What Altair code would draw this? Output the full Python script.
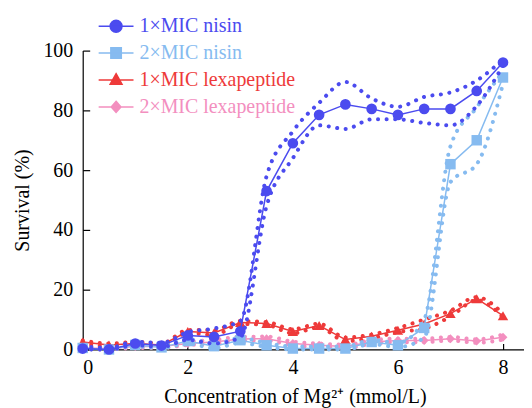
import altair as alt
import pandas as pd

# ---- data ----
conc = [0, 0.5, 1, 1.5, 2, 2.5, 3, 3.5, 4, 4.5, 5, 5.5, 6, 6.5, 7, 7.5, 8]

series = ["1×MIC nisin", "2×MIC nisin", "1×MIC lexapeptide", "2×MIC lexapeptide"]
colors = ["#4b4bef", "#86bbf0", "#ee3a3a", "#f38fbf"]
point_shapes = ["circle", "square", "triangle-up", "diamond"]
point_sizes = [115, 110, 110, 80]

nisin1 = [0.3, 0, 2.0, 1.3, 4.7, 4.2, 6.1, 53, 69, 78.5, 82, 80.5, 78.5, 80.5, 80.5, 86.5, 96]
nisin1_hi = [1.0, 0.6, 2.6, 2.2, 5.8, 7.0, 9.5, 58, 73, 82.5, 89.5, 84, 81.2, 84.5, 86, 90, 97]
nisin1_lo = [0, 0, 1.4, 0.8, 3.2, 2.0, 4.0, 48, 64, 75, 73.8, 77, 77, 75.8, 75, 81.5, 95]

nisin2 = [0.5, 0, 1.5, 0.7, 2.8, 1.1, 3.1, 1.4, 0.3, 0.3, 0.3, 2.5, 1.4, 7.2, 62, 70, 91]
nisin2_hi = [0.8, 0.4, 2.0, 1.4, 3.5, 2.0, 3.8, 2.2, 1.0, 1.0, 1.0, 3.2, 2.2, 10, 68, 81, 93]
nisin2_lo = [0.2, 0, 1.0, 0.4, 2.0, 0.4, 2.2, 0.8, 0, 0, 0, 1.8, 0.8, 4, 56, 62, 89]

lexa1 = [2.5, 1.5, 2.0, 1.5, 6.0, 5.5, 9.0, 8.7, 6.0, 8.0, 3.3, 4.4, 6.4, 8.5, 12, 17, 11.3]
lexa1_hi = [3.0, 2.0, 2.5, 2.0, 6.5, 6.5, 9.5, 9.2, 6.8, 8.6, 4.0, 5.0, 7.2, 10, 13, 17.5, 12]
lexa1_lo = [2.0, 1.0, 1.5, 1.0, 5.5, 4.8, 8.5, 8.2, 5.4, 7.4, 2.8, 3.8, 5.8, 7.0, 11, 16.5, 10.8]

lexa2 = [0.5, 0.3, 1.0, 1.0, 2.0, 2.5, 3.5, 3.6, 2.0, 1.4, 1.0, 2.5, 3.0, 3.0, 3.6, 2.8, 4.1]
lexa2_hi = [1.0, 0.8, 1.6, 1.5, 2.6, 3.2, 4.2, 4.3, 2.6, 2.0, 1.6, 3.1, 3.6, 3.6, 4.2, 3.4, 5.0]
lexa2_lo = [0.1, 0, 0.5, 0.5, 1.5, 1.8, 2.9, 3.0, 1.4, 0.8, 0.5, 1.9, 2.4, 2.4, 3.0, 2.2, 3.3]

x_ticks = [0, 2, 4, 6, 8]
y_ticks = [0, 20, 40, 60, 80, 100]

means = [nisin1, nisin2, lexa1, lexa2]
highs = [nisin1_hi, nisin2_hi, lexa1_hi, lexa2_hi]
lows = [nisin1_lo, nisin2_lo, lexa1_lo, lexa2_lo]

rows = []
for s, m, h, l in zip(series, means, highs, lows):
    for xi, mi, hi, li in zip(conc, m, h, l):
        rows.append({"series": s, "x": xi, "mean": mi, "hi": hi, "lo": li})
df = pd.DataFrame(rows)

FONT = "Liberation Serif, Times New Roman, Times, serif"
AXFONT = "serif"
W, H = 443, 300
xscale = alt.Scale(domain=[0, 8.4], nice=False, zero=False)
yscale = alt.Scale(domain=[0, 100], nice=False)

common = dict(labelFont=AXFONT, labelFontSize=20, labelColor="black",
              titleFont=AXFONT, titleFontSize=20, titleFontWeight="normal", titleColor="black",
              domainColor="black", domainWidth=1.2, tickColor="black", tickWidth=1.2, grid=False)

# main axes: line, labels and titles (no ticks)
xaxis_main = alt.Axis(orient="bottom", values=x_ticks, title="Concentration of Mg²⁺ (mmol/L)",
                      format="d", ticks=False, tickSize=0, labelPadding=8,
                      titleX=213, titleY=53, titleBaseline="alphabetic", titleAnchor="start",
                      titleAlign="center", **common)
yaxis_main = alt.Axis(orient="left", values=y_ticks, title="Survival (%)", format="d",
                      ticks=False, tickSize=0, labelPadding=10,
                      titleX=-54, titleY=150, titleBaseline="alphabetic", titleAlign="center",
                      **common)
# inward ticks: opposite-side axes moved onto the main axis lines
xaxis_ticks = alt.Axis(values=x_ticks, orient="top", offset=-H, labels=False, domain=False,
                       title=None, tickSize=6, **common)
yaxis_ticks = alt.Axis(values=y_ticks, orient="right", offset=-W, labels=False, domain=False,
                       title=None, tickSize=7, **common)

base = alt.Chart(df)
layers = []
first = True
for i in [3, 2, 1, 0]:
    s, c = series[i], colors[i]
    b = base.transform_filter(alt.datum.series == s)
    for band in ["hi", "lo"]:
        xa = xaxis_main if first else None
        ya = yaxis_main if first else None
        first = False
        layers.append(
            b.mark_line(color=c, strokeWidth=4, strokeDash=[0.1, 8.5], strokeCap="round",
                        interpolate="monotone").encode(
                x=alt.X("x:Q", scale=xscale, axis=xa),
                y=alt.Y(f"{band}:Q", scale=yscale, axis=ya))
        )
    layers.append(b.mark_line(color=c, strokeWidth=1.5).encode(
        x=alt.X("x:Q", scale=xscale, axis=None), y=alt.Y("mean:Q", scale=yscale, axis=None)))
    layers.append(
        b.mark_point(filled=True, opacity=1, color=c, shape=point_shapes[i],
                     size=point_sizes[i]).encode(
            x=alt.X("x:Q", scale=xscale, axis=None), y=alt.Y("mean:Q", scale=yscale, axis=None))
    )

# legend symbols: a line with the marker in the middle
legend_paths = [
    "M-1,0H1M0.34,0A0.34,0.34,0,1,1,-0.34,0A0.34,0.34,0,1,1,0.34,0Z",
    "M-1,0H1M-0.3,-0.3H0.3V0.3H-0.3Z",
    "M-1,0H1M0,-0.36L0.34,0.24H-0.34Z",
    "M-1,0H1M0,-0.32L0.28,0L0,0.32L-0.28,0Z",
]
color_expr = ""
for s, c in zip(series[:-1], colors[:-1]):
    color_expr += f"datum.value === '{s}' ? '{c}' : "
color_expr += f"'{colors[-1]}'"

legend = alt.Legend(
    title=None, orient="none", legendX=15, legendY=-37,
    symbolSize=1225, symbolStrokeWidth=1.5, symbolOpacity=1,
    labelFont=FONT, labelFontSize=20, labelColor={"expr": color_expr},
    labelOffset=5, rowPadding=2, clipHeight=25, labelLimit=400,
)
cscale = alt.Scale(domain=series, range=colors)
legend_layer = base.transform_filter("false").mark_point(opacity=1).encode(
    x=alt.X("x:Q", scale=xscale, axis=xaxis_ticks),
    y=alt.Y("mean:Q", scale=yscale, axis=yaxis_ticks),
    fill=alt.Fill("series:N", scale=cscale, legend=legend),
    stroke=alt.Stroke("series:N", scale=cscale, legend=legend),
    shape=alt.Shape("series:N", scale=alt.Scale(domain=series, range=legend_paths), legend=legend),
)
layers.append(legend_layer)

chart = alt.layer(*layers).properties(
    width=W, height=H, autosize="none",
    padding={"left": 75, "top": 42, "right": 0, "bottom": 58},
).configure(
    font=AXFONT,
    style={"guide-label": {"font": AXFONT}, "guide-title": {"font": AXFONT}},
).configure_view(stroke=None).configure_axis(
    grid=False, labelFont=AXFONT, titleFont=AXFONT,
)

chart.save("out.html", embed_options={"renderer": "svg", "actions": False})
